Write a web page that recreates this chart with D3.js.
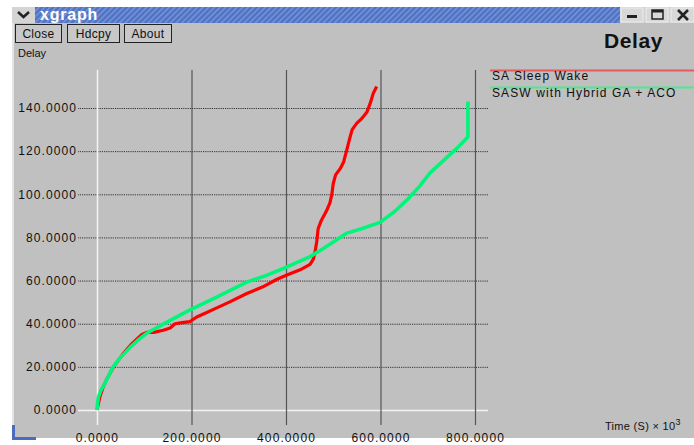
<!DOCTYPE html>
<html>
<head>
<meta charset="utf-8">
<script src="https://cdn.jsdelivr.net/npm/d3@7"></script>
<style>
  body { margin: 0; background: #ffffff; }
  svg text { font-family: "Liberation Sans", "DejaVu Sans", sans-serif; fill: #111; }
</style>
</head>
<body>
<div id="chart"></div>
<script>
// Data
const timeTicks = [0, 200, 400, 600, 800];
const delayTicks = [0, 20, 40, 60, 80, 100, 120, 140];
const seriesNames = ["SA Sleep Wake", "SASW with Hybrid GA + ACO"];

const saTime = [0, 3, 6, 12, 20, 35, 55, 75, 95, 106, 120, 140, 155, 165, 180, 197, 210, 230, 250, 280,
  317, 350, 380, 402, 430, 451, 458, 462, 465, 468, 475, 485, 493, 497, 500, 505, 515, 522, 528, 535,
  540, 550, 560, 571, 578, 585, 592];
const saDelay = [0, 3, 6, 10, 14, 20, 26, 31, 35, 36, 36, 37, 38, 40, 40.5, 41, 43, 45, 47, 50,
  54, 57, 60.5, 62.6, 65, 67.5, 70, 74, 78, 84, 88, 92, 96, 100, 105, 109, 112, 115, 120, 126,
  130, 133, 135, 138, 142, 147, 150];

const hybridTime = [0, 1, 3, 8, 17, 34, 50, 70, 90, 106, 150, 197, 250, 317, 360, 402, 450, 480,
  529, 560, 599, 630, 656, 680, 705, 740, 765, 785, 785];
const hybridDelay = [0, 3, 6, 9, 12.5, 20, 24.5, 29, 33, 35.7, 41, 46.4, 52, 59.3, 62.5, 66.3, 71, 75,
  82, 84, 87, 92, 97.4, 103, 109.9, 117, 122, 126.6, 143];

const W = 694, H = 445;
const svg = d3.select("#chart").append("svg")
  .attr("width", W).attr("height", H);

// window frame
svg.append("rect").attr("x", 12).attr("y", 7).attr("width", W - 12).attr("height", 431)
  .attr("fill", "#c0c0c0");
svg.append("line").attr("x1", 13).attr("x2", 13).attr("y1", 22).attr("y2", 438)
  .attr("stroke", "#e4e4e4").attr("stroke-width", 2);
svg.append("path").attr("d", "M12,425 V440 H36 V437 H15 V425 Z").attr("fill", "#4a6cc0");

// title bar
const defs = svg.append("defs");
const pat = defs.append("pattern").attr("id", "stripes").attr("width", 4).attr("height", 4)
  .attr("patternUnits", "userSpaceOnUse").attr("patternTransform", "rotate(45)");
pat.append("rect").attr("width", 4).attr("height", 4).attr("fill", "#4f72c4");
pat.append("rect").attr("width", 1.4).attr("height", 4).attr("fill", "#7a98d8");
svg.append("rect").attr("x", 35).attr("y", 7).attr("width", 585).attr("height", 16).attr("fill", "url(#stripes)");
svg.append("rect").attr("x", 12).attr("y", 7).attr("width", 23).attr("height", 16).attr("fill", "#d4d4d4");
svg.append("path").attr("d", "M18,12 L23.5,17 L29,12").attr("fill", "none")
  .attr("stroke", "#222").attr("stroke-width", 2.6);
svg.append("text").attr("x", 40).attr("y", 20).text("xgraph")
  .style("font-size", "16px").style("font-weight", "bold").style("fill", "#fff").style("letter-spacing", "0.8px");
svg.append("rect").attr("x", 620).attr("y", 7).attr("width", 74).attr("height", 16).attr("fill", "#d0d0d0");
[[621, 643], [646, 668], [671, 694]].forEach(([a, b]) => {
  svg.append("rect").attr("x", a).attr("y", 8).attr("width", b - a).attr("height", 14)
    .attr("fill", "#d8d8d8").attr("stroke", "#eee");
});
svg.append("rect").attr("x", 627).attr("y", 15).attr("width", 10).attr("height", 3).attr("fill", "#222");
svg.append("rect").attr("x", 652).attr("y", 10).attr("width", 11).attr("height", 9)
  .attr("fill", "none").attr("stroke", "#222").attr("stroke-width", 1.5);
svg.append("rect").attr("x", 652).attr("y", 10).attr("width", 11).attr("height", 2.5).attr("fill", "#222");
svg.append("path").attr("d", "M678,10 L688,20 M688,10 L678,20").attr("stroke", "#222").attr("stroke-width", 2.6);

// buttons
[["Close", 15, 61], ["Hdcpy", 67, 119], ["About", 124, 171]].forEach(([t, a, b]) => {
  svg.append("rect").attr("x", a + 0.5).attr("y", 24.5).attr("width", b - a).attr("height", 18)
    .attr("fill", "#c8c8c8").attr("stroke", "#222");
  svg.append("text").attr("x", (a + b) / 2 + 0.5).attr("y", 38).attr("text-anchor", "middle")
    .style("font-size", "12px").style("letter-spacing", "0.3px").text(t);
});
svg.append("text").attr("x", 18).attr("y", 57).style("font-size", "11px").text("Delay");
svg.append("text").attr("x", 604).attr("y", 48).style("font-size", "21px").style("font-weight", "bold")
  .style("letter-spacing", "0.6px").text("Delay");

// scales
const x = d3.scaleLinear().domain([0, 800]).range([97, 475]);
const y = d3.scaleLinear().domain([0, 140]).range([410, 108]);

// y grid + labels
const yAxis = svg.append("g").attr("transform", "translate(488,0)")
  .call(d3.axisLeft(y).tickValues(delayTicks).tickSize(410).tickPadding(1).tickFormat(d3.format(".4f")));
yAxis.select(".domain").remove();
yAxis.selectAll(".tick line")
  .attr("stroke", d => d === 0 ? "#f4f4f4" : "#333")
  .attr("stroke-width", d => d === 0 ? 1.5 : 1)
  .attr("stroke-dasharray", d => d === 0 ? null : "1.2,1");
yAxis.selectAll(".tick text").style("font-size", "12px").style("letter-spacing", "1.1px")
  .style("font-family", "'Liberation Sans', sans-serif").attr("fill", "#111");

// x grid + labels
const xAxis = svg.append("g").attr("transform", "translate(0,70)")
  .call(d3.axisBottom(x).tickValues(timeTicks).tickSize(355).tickPadding(8).tickFormat(d3.format(".4f")));
xAxis.select(".domain").remove();
xAxis.selectAll(".tick line")
  .attr("stroke", d => d === 0 ? "#f4f4f4" : "#555")
  .attr("stroke-width", d => d === 0 ? 1.5 : 1.2);
xAxis.selectAll(".tick text").style("font-size", "12px").style("letter-spacing", "1.1px")
  .style("font-family", "'Liberation Sans', sans-serif").attr("fill", "#111");

const xt = svg.append("text").attr("x", 605).attr("y", 430).style("font-size", "11px").style("letter-spacing", "0.3px");
xt.append("tspan").text("Time (S) \u00d7 10");
xt.append("tspan").attr("dy", -5).style("font-size", "9px").text("3");

// series
const line = d3.line().x(d => x(d[0])).y(d => y(d[1]));
const saPts = d3.zip(saTime, saDelay);
const hyPts = d3.zip(hybridTime, hybridDelay);

svg.append("path").datum(saPts).attr("fill", "none").attr("stroke", "#ff0000")
  .attr("stroke-width", 3.2).attr("stroke-linejoin", "round").attr("d", line);
svg.append("path").datum(hyPts).attr("fill", "none").attr("stroke", "#00f57a")
  .attr("stroke-width", 3.6).attr("stroke-linejoin", "round").attr("d", line);

// legend
const colors = ["#e85a5a", "#4fe88f"];
seriesNames.forEach((n, i) => {
  svg.append("line").attr("x1", 490).attr("x2", W).attr("y1", 70.5 + i * 17).attr("y2", 70.5 + i * 17)
    .attr("stroke", colors[i]).attr("stroke-width", 1.8);
  svg.append("text").attr("x", 492).attr("y", 80 + i * 17).style("font-size", "12px")
    .style("letter-spacing", "1.1px").text(n);
});
</script>
</body>
</html>
